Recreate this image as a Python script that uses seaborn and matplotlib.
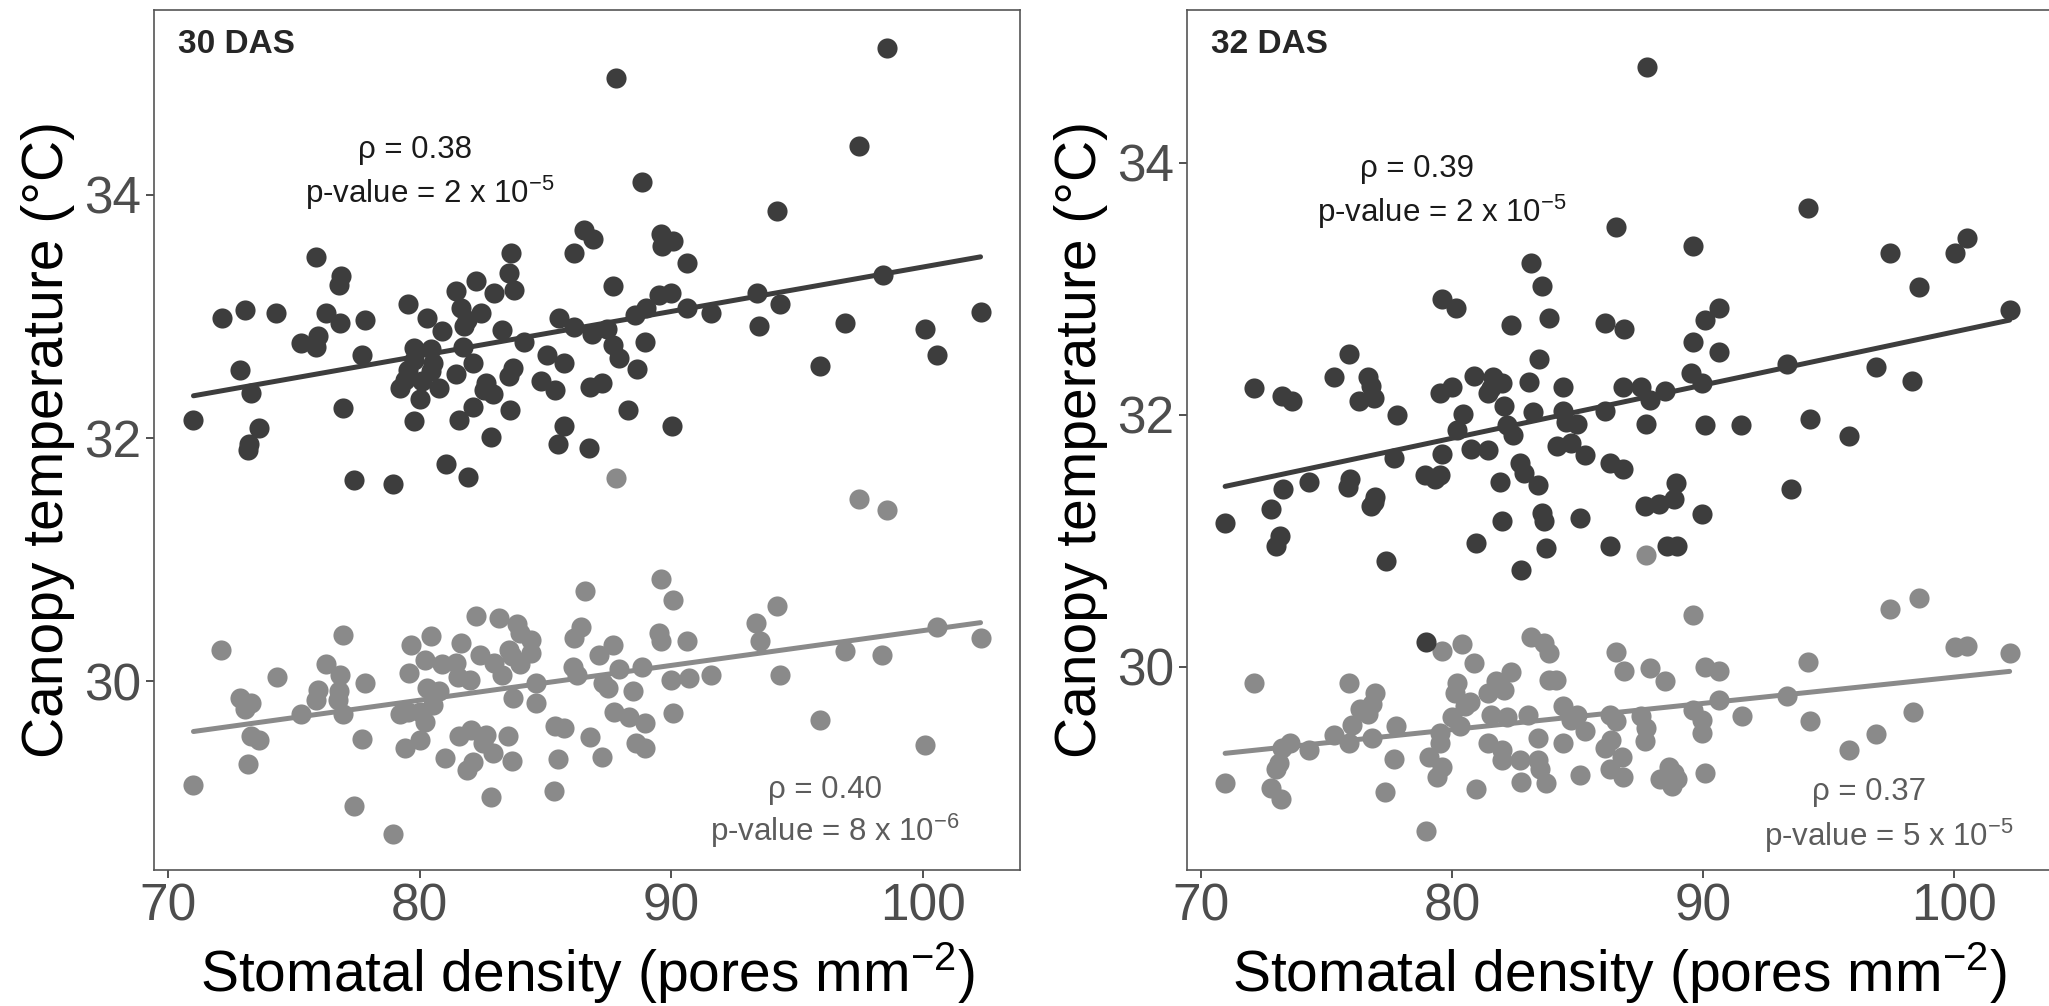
import seaborn as sns
import matplotlib.pyplot as plt
import pandas as pd

# 30 DAS, dark series
x30_dark = [98.59, 87.82, 97.48, 88.82, 94.20, 86.54, 86.87, 89.58, 90.09, 89.64,
            83.61, 86.14, 90.64, 75.88, 98.41, 83.54, 76.88, 76.77, 82.25, 87.69,
            81.43, 82.97, 83.74, 89.53, 89.98, 93.42, 72.15, 73.06, 74.28, 76.28,
            76.84, 77.81, 79.54, 80.28, 81.65, 82.43, 81.88, 81.76, 85.54, 80.88,
            83.28, 86.14, 86.83, 87.43, 88.54, 88.98, 90.64, 91.58, 94.31, 93.49,
            96.90, 100.08, 102.30, 100.57, 95.90, 75.28, 75.95, 75.88, 77.72, 72.84,
            73.29, 71.00, 73.62, 73.22, 73.15, 76.93, 79.77, 80.43, 79.77, 80.54,
            79.54, 79.43, 80.43, 79.21, 80.10, 80.77, 79.99, 79.77, 81.70, 82.10,
            81.43, 82.65, 82.54, 82.92, 82.10, 81.54, 82.83, 83.54, 83.72, 84.16,
            83.59, 84.83, 85.05, 85.72, 85.38, 85.72, 85.49, 86.78, 87.23, 86.72,
            87.69, 87.91, 88.63, 88.95, 88.27, 90.02, 81.03, 81.92, 77.37, 78.92]
y30_dark = [35.21, 34.96, 34.40, 34.11, 33.87, 33.71, 33.64, 33.68, 33.62, 33.58,
            33.52, 33.52, 33.44, 33.49, 33.34, 33.36, 33.33, 33.26, 33.29, 33.25,
            33.21, 33.19, 33.22, 33.18, 33.19, 33.19, 32.99, 33.05, 33.03, 33.03,
            32.95, 32.97, 33.10, 32.99, 33.07, 33.03, 32.97, 32.92, 32.99, 32.88,
            32.89, 32.91, 32.86, 32.90, 33.01, 33.07, 33.07, 33.03, 33.10, 32.92,
            32.95, 32.90, 33.04, 32.68, 32.59, 32.78, 32.84, 32.75, 32.68, 32.56,
            32.37, 32.15, 32.08, 31.95, 31.90, 32.25, 32.74, 32.73, 32.64, 32.62,
            32.56, 32.48, 32.55, 32.41, 32.47, 32.41, 32.32, 32.14, 32.75, 32.62,
            32.53, 32.45, 32.40, 32.36, 32.26, 32.15, 32.01, 32.51, 32.58, 32.79,
            32.23, 32.47, 32.68, 32.62, 32.40, 32.10, 31.95, 32.42, 32.45, 31.92,
            32.77, 32.66, 32.57, 32.79, 32.23, 32.10, 31.79, 31.68, 31.66, 31.62]

# 30 DAS, grey series
x30_grey = [87.82, 97.48, 98.59, 89.58, 90.09, 86.58, 94.20, 82.25, 83.16, 83.87,
            83.98, 84.43, 86.43, 86.14, 93.37, 93.53, 100.57, 102.30, 89.53, 89.58,
            90.64, 76.93, 80.43, 81.65, 79.66, 72.11, 96.90, 98.37, 87.69, 82.39,
            83.54, 83.65, 84.43, 87.14, 80.21, 80.88, 81.43, 82.97, 83.98, 76.26,
            86.09, 87.91, 88.82, 79.59, 81.50, 81.99, 83.27, 74.33, 76.84, 86.25,
            87.27, 84.61, 89.98, 90.69, 91.58, 94.31, 77.81, 80.28, 80.77, 75.95,
            76.77, 87.49, 88.47, 72.84, 73.29, 73.06, 75.88, 76.73, 83.72, 84.61,
            75.28, 76.93, 79.21, 79.54, 79.99, 80.54, 80.21, 87.72, 88.31, 88.95,
            90.09, 85.38, 85.72, 95.90, 73.29, 73.62, 77.72, 79.43, 79.99, 81.54,
            82.03, 82.65, 82.50, 82.92, 83.49, 86.78, 88.60, 88.95, 80.99, 82.10,
            81.88, 83.65, 85.49, 87.23, 100.08, 73.15, 71.00, 82.83, 85.32, 77.37, 78.92]
y30_grey = [31.67, 31.50, 31.41, 30.84, 30.67, 30.74, 30.62, 30.54, 30.52, 30.47,
            30.40, 30.34, 30.45, 30.36, 30.48, 30.33, 30.45, 30.36, 30.40, 30.33,
            30.33, 30.38, 30.37, 30.32, 30.30, 30.26, 30.25, 30.22, 30.30, 30.22,
            30.26, 30.21, 30.23, 30.22, 30.18, 30.14, 30.15, 30.15, 30.14, 30.14,
            30.12, 30.10, 30.12, 30.07, 30.04, 30.01, 30.05, 30.04, 30.05, 30.05,
            29.99, 29.99, 30.01, 30.03, 30.05, 30.05, 29.99, 29.95, 29.92, 29.93,
            29.92, 29.95, 29.92, 29.86, 29.82, 29.77, 29.85, 29.85, 29.86, 29.82,
            29.73, 29.73, 29.73, 29.75, 29.75, 29.81, 29.67, 29.75, 29.71, 29.66,
            29.74, 29.63, 29.62, 29.68, 29.55, 29.52, 29.53, 29.45, 29.52, 29.55,
            29.60, 29.56, 29.49, 29.41, 29.55, 29.54, 29.49, 29.45, 29.37, 29.34,
            29.27, 29.35, 29.36, 29.38, 29.48, 29.32, 29.15, 29.05, 29.10, 28.98, 28.75]

# 32 DAS, dark series
x32_dark = [87.78, 94.17, 86.52, 89.58, 97.45, 100.04, 100.53, 83.15, 83.59, 98.60,
            79.60, 80.16, 83.86, 82.35, 86.08, 86.86, 90.62, 90.07, 102.22, 89.58,
            90.62, 75.88, 83.46, 96.90, 93.35, 98.34, 72.11, 73.22, 73.62, 75.28,
            76.65, 76.76, 76.27, 76.87, 77.80, 79.53, 79.98, 80.86, 81.64, 81.53,
            81.97, 81.42, 83.08, 84.41, 82.08, 80.42, 83.24, 84.41, 86.08, 86.79,
            87.52, 87.89, 88.47, 89.51, 89.96, 84.52, 84.97, 87.74, 90.07, 91.51,
            94.28, 95.83, 80.20, 82.20, 82.42, 80.75, 81.42, 79.60, 77.69, 84.19,
            84.75, 85.30, 82.71, 82.87, 86.30, 86.79, 78.93, 79.31, 79.53, 75.92,
            75.83, 74.28, 73.26, 81.91, 83.41, 88.91, 93.50, 76.94, 76.87, 76.76,
            72.77, 70.95, 73.12, 72.99, 77.36, 80.93, 81.99, 82.75, 83.59, 83.68,
            83.75, 85.08, 86.30, 87.67, 88.25, 88.85, 88.58, 88.96, 89.96, 78.94]
y32_dark = [34.76, 33.64, 33.49, 33.34, 33.28, 33.28, 33.40, 33.20, 33.02, 33.01,
            32.92, 32.85, 32.77, 32.71, 32.73, 32.68, 32.85, 32.75, 32.83, 32.58,
            32.50, 32.48, 32.44, 32.38, 32.40, 32.27, 32.21, 32.15, 32.11, 32.30,
            32.30, 32.23, 32.11, 32.13, 32.00, 32.17, 32.22, 32.31, 32.30, 32.21,
            32.25, 32.17, 32.26, 32.22, 32.07, 32.01, 32.02, 32.03, 32.03, 32.22,
            32.22, 32.12, 32.19, 32.33, 32.25, 31.94, 31.93, 31.93, 31.92, 31.92,
            31.97, 31.83, 31.88, 31.92, 31.84, 31.73, 31.72, 31.69, 31.66, 31.75,
            31.78, 31.68, 31.62, 31.54, 31.62, 31.57, 31.52, 31.49, 31.52, 31.49,
            31.43, 31.47, 31.41, 31.47, 31.44, 31.46, 31.41, 31.35, 31.31, 31.28,
            31.25, 31.14, 31.04, 30.96, 30.84, 30.98, 31.16, 30.77, 31.22, 31.16,
            30.94, 31.18, 30.96, 31.28, 31.29, 31.33, 30.96, 30.96, 31.21, 30.20]

# 32 DAS, grey series
x32_grey = [87.74, 98.60, 97.45, 89.58, 83.15, 83.68, 83.86, 79.60, 80.38, 80.86,
            100.04, 100.53, 102.22, 86.52, 86.85, 87.89, 88.47, 90.07, 90.62, 94.17,
            82.35, 81.75, 82.08, 81.42, 83.86, 84.12, 80.20, 80.13, 80.71, 80.53,
            72.11, 75.88, 76.92, 76.81, 76.32, 76.65, 75.99, 75.88, 75.28, 77.76,
            76.81, 79.98, 80.31, 79.53, 79.53, 81.53, 82.20, 83.04, 84.41, 84.97,
            84.75, 85.30, 86.30, 86.52, 87.52, 87.74, 87.67, 89.58, 89.96, 89.96,
            90.62, 91.57, 93.35, 94.28, 98.38, 96.90, 95.83, 73.55, 73.22, 74.28,
            73.10, 72.99, 70.95, 72.77, 73.17, 77.69, 77.32, 79.09, 79.60, 79.38,
            80.93, 81.42, 81.97, 81.97, 82.71, 82.75, 83.41, 83.41, 83.52, 83.75,
            84.41, 85.08, 86.08, 86.35, 86.75, 86.30, 86.79, 88.29, 88.63, 88.85,
            88.96, 88.78, 90.07, 78.94]
y32_grey = [30.89, 30.55, 30.46, 30.41, 30.24, 30.19, 30.11, 30.13, 30.18, 30.03,
            30.16, 30.17, 30.11, 30.12, 29.97, 29.99, 29.89, 30.00, 29.97, 30.04,
            29.96, 29.89, 29.82, 29.79, 29.90, 29.90, 29.87, 29.79, 29.72, 29.69,
            29.87, 29.87, 29.79, 29.71, 29.67, 29.63, 29.54, 29.40, 29.46, 29.53,
            29.44, 29.60, 29.53, 29.48, 29.40, 29.62, 29.60, 29.62, 29.69, 29.62,
            29.58, 29.49, 29.62, 29.57, 29.61, 29.52, 29.41, 29.66, 29.58, 29.48,
            29.74, 29.61, 29.77, 29.57, 29.64, 29.47, 29.34, 29.40, 29.36, 29.34,
            29.24, 29.19, 29.08, 29.04, 28.95, 29.27, 29.01, 29.29, 29.21, 29.13,
            29.03, 29.40, 29.34, 29.26, 29.26, 29.09, 29.44, 29.26, 29.19, 29.08,
            29.40, 29.14, 29.36, 29.42, 29.29, 29.19, 29.13, 29.11, 29.21, 29.16,
            29.11, 29.06, 29.16, 28.70]

panel_titles = ["30 DAS", "32 DAS"]
rho_dark = ["0.38", "0.39"]
p_dark = ["2 x 10$^{-5}$", "2 x 10$^{-5}$"]
rho_grey = ["0.40", "0.37"]
p_grey = ["8 x 10$^{-6}$", "5 x 10$^{-5}$"]

DARK = "#3d3d3d"
GREY = "#8a8a8a"

sns.set_theme(style="white")
plt.rcParams["font.family"] = ["Liberation Sans", "DejaVu Sans"]
plt.rcParams["mathtext.fontset"] = "custom"
plt.rcParams["mathtext.rm"] = "Liberation Sans"
plt.rcParams["mathtext.it"] = "Liberation Sans:italic"
plt.rcParams["mathtext.bf"] = "Liberation Sans:bold"
plt.rcParams["mathtext.default"] = "regular"

fig = plt.figure(figsize=(20.49, 10.06), dpi=100)
ax1 = fig.add_axes([154 / 2049, 136 / 1006, 866 / 2049, 860 / 1006])
ax2 = fig.add_axes([1187 / 2049, 136 / 1006, 864 / 2049, 860 / 1006])

panels = [
    (ax1, x30_dark, y30_dark, x30_grey, y30_grey, (28.45, 35.52),
     [(79.8, 34.37), (80.4, 34.02)], [(96.1, 29.11), (96.5, 28.77)]),
    (ax2, x32_dark, y32_dark, x32_grey, y32_grey, (28.39, 35.21),
     [(78.6, 33.95), (79.6, 33.61)], [(96.6, 29.01), (97.4, 28.66)]),
]

for i, (ax, xd, yd, xg, yg, ylim, pos_d, pos_g) in enumerate(panels):
    dark = pd.DataFrame({"density": xd, "temp": yd})
    grey = pd.DataFrame({"density": xg, "temp": yg})

    sns.scatterplot(data=grey, x="density", y="temp", color=GREY, s=210,
                    linewidth=0, ax=ax, zorder=2)
    sns.regplot(data=grey, x="density", y="temp", scatter=False, ci=None,
                color=GREY, line_kws={"lw": 3.6, "zorder": 3}, ax=ax)
    sns.scatterplot(data=dark, x="density", y="temp", color=DARK, s=210,
                    linewidth=0, ax=ax, zorder=4)
    sns.regplot(data=dark, x="density", y="temp", scatter=False, ci=None,
                color=DARK, line_kws={"lw": 3.6, "zorder": 5}, ax=ax)

    ax.set_xlim(69.43, 103.87)
    ax.set_ylim(*ylim)
    ax.set_xticks([70, 80, 90, 100])
    ax.set_yticks([30, 32, 34])

    for sp in ax.spines.values():
        sp.set_color("#555555")
        sp.set_linewidth(1.2)
    ax.tick_params(axis="both", direction="out", length=6, width=1.2,
                   color="#333333", labelsize=37, labelcolor="#4d4d4d",
                   left=True, bottom=True)
    ax.tick_params(axis="y", pad=3)
    ax.tick_params(axis="x", pad=3)

    ax.set_xlabel("Stomatal density (pores mm$^{-2}$)", fontsize=41,
                  color="black", labelpad=6)
    ax.set_ylabel("Canopy temperature (°C)", fontsize=41, color="black",
                  labelpad=7)

    ax.text(0.028, 0.96, panel_titles[i], transform=ax.transAxes,
            fontsize=24, fontweight="bold", ha="left", va="center")

    ax.text(*pos_d[0], "ρ = " + rho_dark[i], fontsize=22.5, color="#1a1a1a",
            ha="center", va="center")
    ax.text(*pos_d[1], "p-value = " + p_dark[i], fontsize=22.5,
            color="#1a1a1a", ha="center", va="center")
    ax.text(*pos_g[0], "ρ = " + rho_grey[i], fontsize=22.5, color="#5c5c5c",
            ha="center", va="center")
    ax.text(*pos_g[1], "p-value = " + p_grey[i], fontsize=22.5,
            color="#5c5c5c", ha="center", va="center")

fig.savefig("out.png", dpi=100)
